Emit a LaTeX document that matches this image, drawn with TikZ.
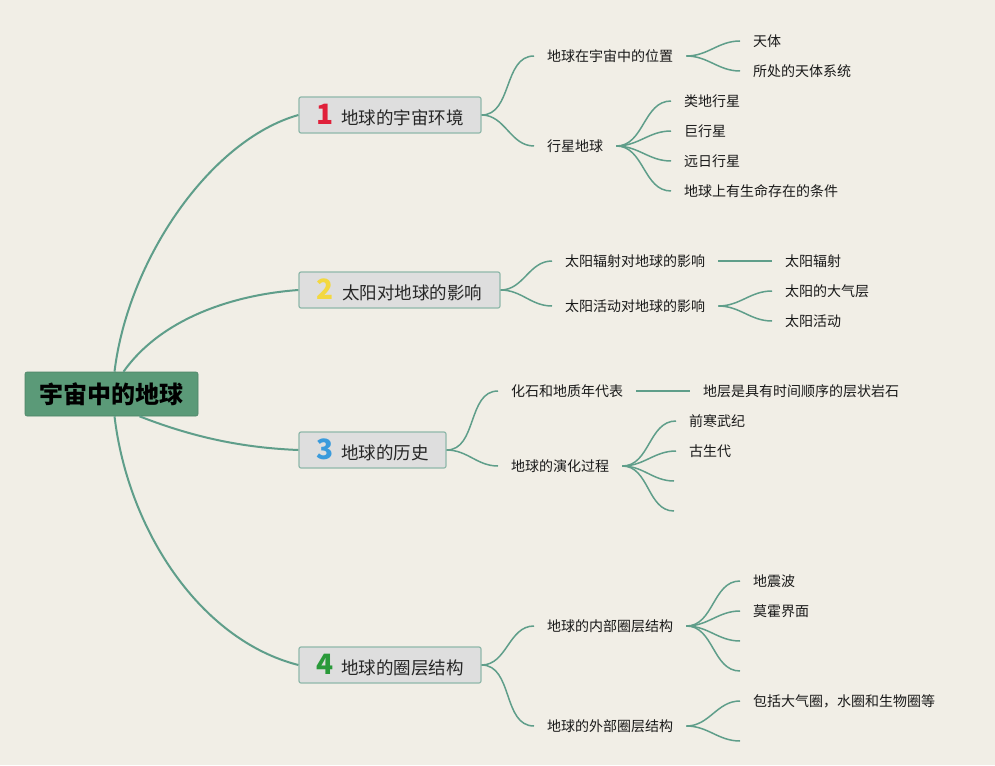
\documentclass[tikz,border=0pt]{standalone}
\usepackage{fontspec}
\setmainfont{Noto Sans CJK SC}
\definecolor{bg}{HTML}{F1EEE6}
\definecolor{lc}{HTML}{5F9E8A}
\definecolor{rootfill}{HTML}{5B9A78}
\definecolor{bx}{HTML}{DEDEDE}
\definecolor{bd}{HTML}{8FB8AA}
\definecolor{nred}{HTML}{E0203A}
\definecolor{nyel}{HTML}{F3D840}
\definecolor{nblu}{HTML}{3A9BDC}
\definecolor{ngrn}{HTML}{2A9A3A}
\newcommand{\topicnum}[2]{{\bfseries\fontsize{28}{28}\selectfont\color{#1}#2}\hspace{8pt}}
\begin{document}
\begin{tikzpicture}[x=1pt,y=-1pt,
  conn/.style={draw=lc, line width=1.5pt},
  mainconn/.style={draw=lc, line width=2pt},
  rootbox/.style={draw=rootfill!85!black, fill=rootfill, line width=0.6pt, rounded corners=2pt,
    minimum width=173pt, minimum height=44pt, inner sep=0pt,
    font=\bfseries\fontsize{24}{26}\selectfont, text=black},
  topicbox/.style={draw=bd, fill=bx, line width=1.2pt, rounded corners=2pt,
    minimum height=36pt, inner sep=0pt, font=\fontsize{17.5}{20}\selectfont, text=black!85},
  sub/.style={font=\fontsize{14}{16}\selectfont, inner xsep=13pt, inner ysep=2pt, anchor=west, text=black!90},
  leaf/.style={font=\fontsize{14}{16}\selectfont, inner xsep=13pt, inner ysep=2pt, anchor=west, text=black!90}
]
\fill[bg] (0,0) rectangle (995,765);
\useasboundingbox (0,0) rectangle (995,765);

% root
\node[rootbox] (root) at (111.5,394) {宇宙中的地球};

% main topics
\node[topicbox, minimum width=182pt] (t1) at (390,115) {\topicnum{nred}{1}地球的宇宙环境};
\node[topicbox, minimum width=201pt] (t2) at (399.5,290) {\topicnum{nyel}{2}太阳对地球的影响};
\node[topicbox, minimum width=147pt] (t3) at (372.5,450) {\topicnum{nblu}{3}地球的历史};
\node[topicbox, minimum width=182pt] (t4) at (390,665) {\topicnum{ngrn}{4}地球的圈层结构};

\draw[mainconn] ([xshift=3pt]root.north) .. controls (128,260) and (210,140) .. (t1.west);
\draw[mainconn] ([xshift=12pt]root.north) .. controls (160,320) and (230,295) .. (t2.west);
\draw[mainconn] ([xshift=28pt]root.south) .. controls (200,440) and (250,448) .. (t3.west);
\draw[mainconn] ([xshift=3pt]root.south) .. controls (128,530) and (200,640) .. (t4.west);

% topic 1
\node[sub] (s11) at (534,56) {地球在宇宙中的位置};
\node[sub] (s12) at (534,146) {行星地球};
\draw[conn] (t1.east) to[out=0,in=180] (s11.west);
\draw[conn] (t1.east) to[out=0,in=180] (s12.west);
\node[leaf] (l111) at (740,41) {天体};
\node[leaf] (l112) at (740,71) {所处的天体系统};
\draw[conn] (s11.east) to[out=0,in=180] (l111.west);
\draw[conn] (s11.east) to[out=0,in=180] (l112.west);
\node[leaf] (l121) at (671,101) {类地行星};
\node[leaf] (l122) at (671,131) {巨行星};
\node[leaf] (l123) at (671,161) {远日行星};
\node[leaf] (l124) at (671,191) {地球上有生命存在的条件};
\foreach \n in {l121,l122,l123,l124}
  \draw[conn] (s12.east) to[out=0,in=180] (\n.west);

% topic 2
\node[sub] (s21) at (552,261) {太阳辐射对地球的影响};
\node[sub] (s22) at (552,306) {太阳活动对地球的影响};
\draw[conn] (t2.east) to[out=0,in=180] (s21.west);
\draw[conn] (t2.east) to[out=0,in=180] (s22.west);
\node[leaf] (l211) at (772,261) {太阳辐射};
\draw[conn] (s21.east) -- (l211.west);
\node[leaf] (l221) at (772,291) {太阳的大气层};
\node[leaf] (l222) at (772,321) {太阳活动};
\draw[conn] (s22.east) to[out=0,in=180] (l221.west);
\draw[conn] (s22.east) to[out=0,in=180] (l222.west);

% topic 3
\node[sub] (s31) at (498,391) {化石和地质年代表};
\node[sub] (s32) at (498,466) {地球的演化过程};
\draw[conn] (t3.east) to[out=0,in=180] (s31.west);
\draw[conn] (t3.east) to[out=0,in=180] (s32.west);
\node[leaf] (l311) at (690,391) {地层是具有时间顺序的层状岩石};
\draw[conn] (s31.east) -- (l311.west);
\node[leaf] (l321) at (676,421) {前寒武纪};
\node[leaf] (l322) at (676,451) {古生代};
\coordinate (l323) at (674,481);
\coordinate (l324) at (674,511);
\draw[conn] (s32.east) to[out=0,in=180] (l321.west);
\draw[conn] (s32.east) to[out=0,in=180] (l322.west);
\draw[conn] (s32.east) to[out=0,in=180] (l323);
\draw[conn] (s32.east) to[out=0,in=180] (l324);

% topic 4
\node[sub] (s41) at (534,626) {地球的内部圈层结构};
\node[sub] (s42) at (534,726) {地球的外部圈层结构};
\draw[conn] (t4.east) to[out=0,in=180] (s41.west);
\draw[conn] (t4.east) to[out=0,in=180] (s42.west);
\node[leaf] (l411) at (740,581) {地震波};
\node[leaf] (l412) at (740,611) {莫霍界面};
\coordinate (l413) at (740,641);
\coordinate (l414) at (740,671);
\draw[conn] (s41.east) to[out=0,in=180] (l411.west);
\draw[conn] (s41.east) to[out=0,in=180] (l412.west);
\draw[conn] (s41.east) to[out=0,in=180] (l413);
\draw[conn] (s41.east) to[out=0,in=180] (l414);
\node[leaf] (l421) at (740,701) {包括大气圈，水圈和生物圈等};
\coordinate (l422) at (740,741);
\draw[conn] (s42.east) to[out=0,in=180] (l421.west);
\draw[conn] (s42.east) to[out=0,in=180] (l422);
\end{tikzpicture}
\end{document}
